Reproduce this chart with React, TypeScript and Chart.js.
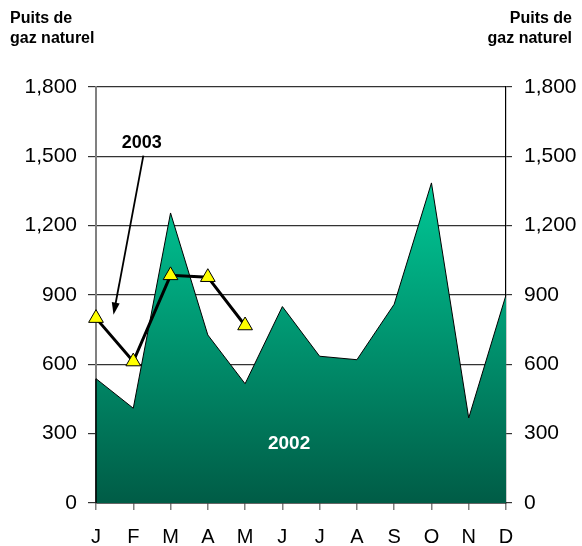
import { useEffect, useRef } from "react";
import { Chart, registerables } from "chart.js";

Chart.register(...registerables);

const months = ["J", "F", "M", "A", "M", "J", "J", "A", "S", "O", "N", "D"];
const wells2002 = [538, 410, 1255, 727, 516, 850, 635, 620, 860, 1385, 368, 900];
const wells2003 = [800, 612, 985, 977, 768];
const yMin = 0;
const yMax = 1800;
const yStep = 300;
const axisTitle = ["Puits de", "gaz naturel"];
const label2003 = "2003";
const label2002 = "2002";

const FONT = 'Arial, "Liberation Sans", sans-serif';

export default function App() {
  const ref = useRef<HTMLCanvasElement | null>(null);

  useEffect(() => {
    if (!ref.current) return;

    const overlay = {
      id: "overlay",
      afterDatasetsDraw(chart: any) {
        const { ctx, chartArea, scales } = chart;
        const x = scales.x;
        const y = scales.y;
        ctx.save();
        // left edge of the 2002 area
        ctx.strokeStyle = "#000";
        ctx.lineWidth = 1.5;
        ctx.beginPath();
        ctx.moveTo(chartArea.left, y.getPixelForValue(wells2002[0]));
        ctx.lineTo(chartArea.left, chartArea.bottom);
        ctx.stroke();

        // "2003" label and arrow
        ctx.fillStyle = "#000";
        ctx.font = `bold 18px ${FONT}`;
        ctx.textAlign = "center";
        ctx.textBaseline = "middle";
        ctx.fillText(label2003, x.getPixelForValue(1.23), y.getPixelForValue(1558));

        const x0 = x.getPixelForValue(1.27);
        const y0 = y.getPixelForValue(1503);
        const x1 = x.getPixelForValue(0.47);
        const y1 = y.getPixelForValue(815);
        const ang = Math.atan2(y1 - y0, x1 - x0);
        const headLen = 12;
        const headW = 4;
        ctx.lineWidth = 1.8;
        ctx.beginPath();
        ctx.moveTo(x0, y0);
        ctx.lineTo(x1 - Math.cos(ang) * headLen * 0.8, y1 - Math.sin(ang) * headLen * 0.8);
        ctx.stroke();
        ctx.beginPath();
        ctx.moveTo(x1, y1);
        ctx.lineTo(
          x1 - Math.cos(ang) * headLen + Math.sin(ang) * headW,
          y1 - Math.sin(ang) * headLen - Math.cos(ang) * headW
        );
        ctx.lineTo(
          x1 - Math.cos(ang) * headLen - Math.sin(ang) * headW,
          y1 - Math.sin(ang) * headLen + Math.cos(ang) * headW
        );
        ctx.closePath();
        ctx.fill();

        // "2002" label
        ctx.fillStyle = "#fff";
        ctx.font = `bold 19px ${FONT}`;
        ctx.fillText(label2002, x.getPixelForValue(5.18), y.getPixelForValue(258));
        ctx.restore();
      },
      afterDraw(chart: any) {
        const { ctx, width } = chart;
        ctx.save();
        ctx.fillStyle = "#000";
        ctx.font = `bold 16px ${FONT}`;
        ctx.textBaseline = "alphabetic";
        ctx.textAlign = "left";
        ctx.fillText(axisTitle[0], 10, 22.5);
        ctx.fillText(axisTitle[1], 10, 43);
        ctx.textAlign = "right";
        ctx.fillText(axisTitle[0], width - 10, 22.5);
        ctx.fillText(axisTitle[1], width - 10, 43);
        ctx.restore();
      },
    };

    const fmt = (v: any) => Number(v).toLocaleString("en-US");

    const chart = new Chart(ref.current, {
      type: "line",
      data: {
        labels: months,
        datasets: [
          {
            label: "2003",
            data: wells2003,
            order: 0,
            borderColor: "#000",
            borderWidth: 3,
            pointStyle: "triangle",
            pointRadius: 8.5,
            pointHoverRadius: 8.5,
            pointBackgroundColor: "#FFFF00",
            pointBorderColor: "#000",
            pointBorderWidth: 1,
            fill: false,
            tension: 0,
            yAxisID: "y",
          },
          {
            label: "2002",
            data: wells2002,
            order: 1,
            borderColor: "#000",
            borderWidth: 1,
            pointRadius: 0,
            pointHoverRadius: 0,
            fill: "origin",
            tension: 0,
            yAxisID: "y",
            backgroundColor: (c: any) => {
              const ch = c.chart;
              const { ctx, chartArea, scales } = ch;
              if (!chartArea || !scales.y) return "#00A07A";
              const top = scales.y.getPixelForValue(Math.max(...wells2002));
              const g = ctx.createLinearGradient(0, top, 0, chartArea.bottom);
              g.addColorStop(0, "#00C896");
              g.addColorStop(1, "#005C46");
              return g;
            },
          },
        ],
      },
      options: {
        animation: false,
        responsive: false,
        maintainAspectRatio: false,
        events: [],
        layout: { padding: { top: 87, left: 0, right: 0, bottom: 0 } },
        plugins: {
          legend: { display: false },
          tooltip: { enabled: false },
          title: { display: false },
        },
        scales: {
          x: {
            type: "category",
            offset: false,
            z: 1,
            grid: {
              drawOnChartArea: false,
              drawTicks: true,
              tickLength: 7,
              color: "#808080",
              lineWidth: 1.5,
            },
            border: { display: true, color: "#000", width: 1.5 },
            ticks: {
              color: "#000",
              font: { family: FONT, size: 20 },
              padding: 15,
              maxRotation: 0,
              autoSkip: false,
            },
            afterFit: (s: any) => {
              s.height = 43;
            },
          },
          y: {
            position: "left",
            min: yMin,
            max: yMax,
            grid: {
              color: "#333",
              lineWidth: 1.2,
              drawTicks: true,
              tickLength: 8,
            },
            border: { display: true, color: "#808080", width: 2 },
            ticks: {
              stepSize: yStep,
              color: "#000",
              font: { family: FONT, size: 21 },
              padding: 11,
              callback: fmt,
            },
            afterFit: (s: any) => {
              s.width = 96;
            },
          },
          y2: {
            position: "right",
            min: yMin,
            max: yMax,
            z: 1,
            grid: {
              drawOnChartArea: false,
              drawTicks: true,
              tickLength: 6,
              color: "#333",
              lineWidth: 1.2,
            },
            border: { display: true, color: "#000", width: 1.2 },
            ticks: {
              stepSize: yStep,
              color: "#000",
              font: { family: FONT, size: 21 },
              padding: 12,
              callback: fmt,
            },
            afterFit: (s: any) => {
              s.width = 76;
            },
          },
        },
      } as any,
      plugins: [overlay],
    });

    return () => chart.destroy();
  }, []);

  return (
    <div style={{ position: "absolute", left: 0, top: 0, width: 582, height: 546, background: "#fff" }}>
      <canvas ref={ref} width={582} height={546} style={{ display: "block" }} />
    </div>
  );
}
